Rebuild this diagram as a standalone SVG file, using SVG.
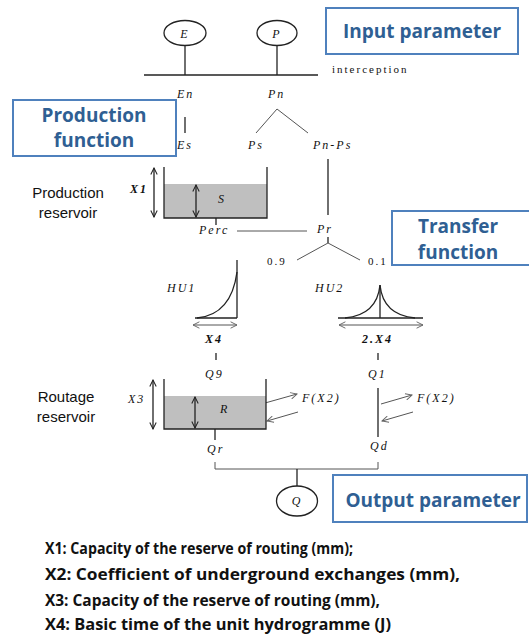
<svg xmlns="http://www.w3.org/2000/svg" width="529" height="634" viewBox="0 0 529 634">
<style>
.ln{stroke:#222;stroke-width:1.3;fill:none}
.lg{stroke:#555;stroke-width:1;fill:none}
.m{font-family:"Liberation Serif",serif;font-style:italic;font-size:12px;fill:#111;letter-spacing:2px}
.n{font-family:"Liberation Serif",serif;font-size:11px;fill:#111;letter-spacing:2px}
.lab{font-family:"Liberation Sans",Arial,sans-serif;font-size:15px;fill:#111;text-anchor:middle}
.box{fill:#fff;stroke:#4f81bd;stroke-width:2}
.bt{font-family:"Open Sans","Liberation Sans",sans-serif;font-weight:bold;font-size:19px;fill:#2f5f93;text-anchor:middle}
.leg{font-family:"Open Sans","Liberation Sans",sans-serif;font-weight:bold;font-size:16px;fill:#111}
.water{fill:#bfbfbf;stroke:none}
</style>
<defs>
<marker id="ah" viewBox="0 0 10 10" refX="9" refY="5" markerWidth="8" markerHeight="8" orient="auto-start-reverse" markerUnits="userSpaceOnUse">
<path d="M1,1 L9,5 L1,9" fill="none" stroke="#222" stroke-width="1.3"/>
</marker>
<marker id="ag" viewBox="0 0 10 10" refX="9" refY="5" markerWidth="8" markerHeight="8" orient="auto-start-reverse" markerUnits="userSpaceOnUse">
<path d="M1,1 L9,5 L1,9" fill="none" stroke="#666" stroke-width="1.2"/>
</marker>
</defs>

<g id="connectors">
<line class="ln" x1="185" y1="45" x2="185" y2="75"/>
<line class="ln" x1="277" y1="45" x2="277" y2="75"/>
<line class="ln" x1="144" y1="75" x2="318" y2="75"/>
<line class="ln" x1="185" y1="117" x2="185" y2="133"/>
<polyline class="lg" points="256,133 277,109 308,133"/>
<line class="ln" x1="328" y1="159" x2="328" y2="215"/>
<line class="ln" x1="216" y1="218" x2="216" y2="225"/>
<line class="lg" x1="237" y1="231" x2="307" y2="231"/>
<line class="ln" x1="328" y1="237" x2="328" y2="243"/>
<polyline class="lg" points="297,260 328,243 360,260"/>
<line class="ln" x1="216" y1="353" x2="216" y2="360"/>
<line class="ln" x1="378" y1="353" x2="378" y2="360"/>
<line class="ln" x1="378" y1="388" x2="378" y2="437"/>
<line class="ln" x1="215" y1="429" x2="215" y2="440"/>
<polyline class="lg" points="215,462 215,469 378,469 378,462"/>
<line class="ln" x1="297" y1="469" x2="297" y2="486"/>
<line class="lg" x1="265" y1="403" x2="297" y2="394" marker-end="url(#ag)"/>
<line class="lg" x1="298" y1="412" x2="267" y2="421" marker-end="url(#ag)"/>
<line class="lg" x1="381" y1="404" x2="412" y2="395" marker-end="url(#ag)"/>
<line class="lg" x1="413" y1="412" x2="382" y2="421" marker-end="url(#ag)"/>
</g>

<g id="node-E">
<ellipse class="ln" cx="185" cy="33" rx="21" ry="12.5"/>
<text class="m" x="185" y="38" text-anchor="middle" letter-spacing="0">E</text>
</g>
<g id="node-P">
<ellipse class="ln" cx="277" cy="33" rx="20" ry="12.5"/>
<text class="m" x="277" y="38" text-anchor="middle" letter-spacing="0">P</text>
</g>
<g id="label-interception"><text class="n" x="332" y="73">interception</text></g>
<g id="label-En"><text class="m" x="177" y="98">En</text></g>
<g id="label-Pn"><text class="m" x="268" y="98">Pn</text></g>
<g id="label-Es"><text class="m" x="177" y="149">Es</text></g>
<g id="label-Ps"><text class="m" x="248" y="149">Ps</text></g>
<g id="label-PnPs"><text class="m" x="313" y="149">Pn-Ps</text></g>

<g id="box-input">
<rect class="box" x="326" y="8" width="192" height="46"/>
<text class="bt" x="422" y="38">Input parameter</text>
</g>
<g id="box-production">
<rect class="box" x="13" y="100" width="163" height="56"/>
<text class="bt" x="94" y="122" font-size="18">Production</text>
<text class="bt" x="94" y="147" font-size="18">function</text>
</g>
<g id="box-transfer">
<rect class="box" x="392" y="211" width="140" height="54"/>
<text class="bt" x="458" y="233">Transfer</text>
<text class="bt" x="458" y="259">function</text>
</g>
<g id="box-output">
<rect class="box" x="333" y="475" width="194" height="47"/>
<text class="bt" x="433" y="507">Output parameter</text>
</g>

<g id="production-reservoir">
<text class="lab" x="68" y="198">Production</text>
<text class="lab" x="68" y="218">reservoir</text>
<text class="m" x="130" y="193" font-weight="bold">X1</text>
<line class="ln" x1="154" y1="168" x2="154" y2="217" marker-start="url(#ah)" marker-end="url(#ah)"/>
<rect class="water" x="164" y="184" width="103" height="34"/>
<polyline class="ln" points="164,167 164,218 267,218 267,167"/>
<line class="ln" x1="196" y1="185" x2="196" y2="217" marker-start="url(#ah)" marker-end="url(#ah)"/>
<text class="m" x="218" y="203" fill="#444">S</text>
<text class="m" x="199" y="234">Perc</text>
</g>

<g id="node-Pr">
<text class="m" x="317" y="233">Pr</text>
<text class="n" x="267" y="265">0.9</text>
<text class="n" x="368" y="265">0.1</text>
</g>

<g id="HU1">
<text class="m" x="167" y="292">HU1</text>
<line class="ln" x1="237" y1="260" x2="237" y2="318"/>
<line class="ln" x1="195" y1="318" x2="237" y2="318"/>
<path class="ln" d="M197,318 C218,316 233,302 237,272"/>
<line class="lg" x1="193" y1="325" x2="237" y2="325" marker-start="url(#ag)" marker-end="url(#ag)"/>
<text class="m" x="205" y="343" font-weight="bold">X4</text>
</g>

<g id="HU2">
<text class="m" x="315" y="292">HU2</text>
<line class="ln" x1="380" y1="285" x2="380" y2="318"/>
<line class="ln" x1="338" y1="318" x2="423" y2="318"/>
<path class="ln" d="M345,318 C366,316 378,305 380,285 C382,305 394,316 415,318"/>
<line class="lg" x1="339" y1="325" x2="423" y2="325" marker-start="url(#ag)" marker-end="url(#ag)"/>
<text class="m" x="362" y="343" font-weight="bold">2.X4</text>
</g>

<g id="routage-reservoir">
<text class="m" x="205" y="378">Q9</text>
<text class="lab" x="66" y="402">Routage</text>
<text class="lab" x="66" y="422">reservoir</text>
<text class="m" x="128" y="403">X3</text>
<line class="ln" x1="153" y1="380" x2="153" y2="429" marker-start="url(#ah)" marker-end="url(#ah)"/>
<rect class="water" x="164" y="396" width="102" height="33"/>
<polyline class="ln" points="164,379 164,429 266,429 266,379"/>
<line class="ln" x1="195" y1="397" x2="195" y2="428" marker-start="url(#ah)" marker-end="url(#ah)"/>
<text class="m" x="220" y="413" fill="#444">R</text>
<text class="m" x="302" y="402">F(X2)</text>
<text class="m" x="207" y="453">Qr</text>
</g>

<g id="branch-Q1">
<text class="m" x="368" y="378">Q1</text>
<text class="m" x="417" y="402">F(X2)</text>
<text class="m" x="370" y="450">Qd</text>
</g>

<g id="node-Q">
<ellipse class="ln" cx="297" cy="501" rx="20.5" ry="15"/>
<text class="m" x="297" y="505" text-anchor="middle" letter-spacing="0">Q</text>
</g>

<g id="legend">
<text class="leg" x="45" y="554" textLength="308" lengthAdjust="spacingAndGlyphs">X1: Capacity of the reserve of routing (mm);</text>
<text class="leg" x="45" y="580" textLength="415" lengthAdjust="spacingAndGlyphs">X2: Coefficient of underground exchanges (mm),</text>
<text class="leg" x="45" y="606" textLength="335" lengthAdjust="spacingAndGlyphs">X3: Capacity of the reserve of routing (mm),</text>
<text class="leg" x="45" y="630" textLength="346" lengthAdjust="spacingAndGlyphs">X4: Basic time of the unit hydrogramme (J)</text>
</g>
</svg>
